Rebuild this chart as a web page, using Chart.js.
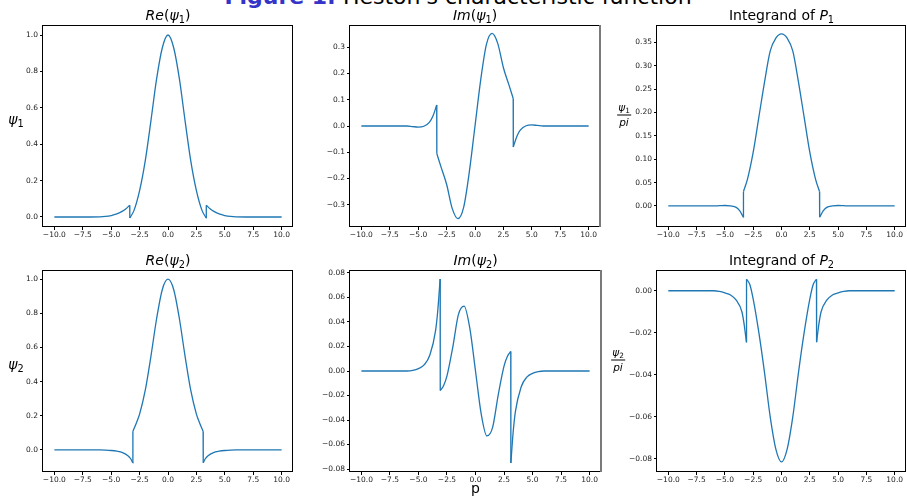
<!DOCTYPE html>
<html>
<head>
<meta charset="utf-8">
<script src="https://cdn.jsdelivr.net/npm/chart.js@4.4.0/dist/chart.umd.min.js"></script>
<style>
  body { margin: 0; background: #fff; width: 907px; height: 502px; overflow: hidden; position: relative;
         font-family: 'DejaVu Sans', sans-serif; }
  canvas { position: absolute; }
  .t { position: absolute; white-space: nowrap; line-height: 1; color: #000; }
  .s { font-size: 0.7em; position: relative; top: 0.25em; font-style: normal; }
  .fr { position: absolute; line-height: 1; text-align: center; font-size: 10.5px; white-space: nowrap;
        transform: translate(-50%, -50%); }
  .fr .num { border-bottom: 0.8px solid #000; padding: 0 1px 2px; }
  .fr .den { padding-top: 1px; }
</style>
</head>
<body>
<script>
// x values where the curves were read (top row jumps near +-3.37, bottom row near +-3.1)
const pTop = [-10, -8, -6, -5.5, -5, -4.5, -4, -3.7, -3.37, -3.36, -3, -2.5, -2, -1.5, -1, -0.5, 0,
              0.5, 1, 1.5, 2, 2.5, 3, 3.36, 3.37, 3.7, 4, 4.5, 5, 5.5, 6, 8, 10];
const pBottom = [-10, -8, -6, -5.5, -5, -4.5, -4, -3.5, -3.3, -3.1, -3.09, -2.8, -2.5, -2, -1.5, -1, -0.5, 0,
                 0.5, 1, 1.5, 2, 2.5, 2.8, 3.09, 3.1, 3.3, 3.5, 4, 4.5, 5, 5.5, 6, 8, 10];
// index of the last point before each vertical jump
const jumpsTop = [8, 23];
const jumpsBottom = [9, 24];

const reY1 = [0, 0, 0.001, 0.003, 0.008, 0.017, 0.032, 0.045, 0.065, -0.005, 0.035, 0.145, 0.31, 0.53, 0.76, 0.93, 1.0,
              0.93, 0.76, 0.53, 0.31, 0.145, 0.035, -0.005, 0.065, 0.045, 0.032, 0.017, 0.008, 0.003, 0.001, 0, 0];
const imY1 = [0, 0, 0, -0.002, -0.004, -0.001, 0.015, 0.038, 0.08, -0.105, -0.155, -0.222, -0.315, -0.353, -0.31, -0.175, 0,
              0.175, 0.31, 0.353, 0.315, 0.222, 0.155, 0.105, -0.08, -0.038, -0.015, 0.001, 0.004, 0.002, 0, 0, 0];
const intY1 = [0, 0, 0, 0.0005, 0.001, 0, -0.003, -0.01, -0.024, 0.031, 0.058, 0.115, 0.19, 0.265, 0.331, 0.359, 0.368,
               0.359, 0.331, 0.265, 0.19, 0.115, 0.058, 0.031, -0.024, -0.01, -0.003, 0, 0.001, 0.0005, 0, 0, 0];

const reY2 = [0, 0, 0, -0.001, -0.003, -0.007, -0.015, -0.035, -0.05, -0.075, 0.11, 0.155, 0.21, 0.35, 0.55, 0.77, 0.94, 1.0,
              0.94, 0.77, 0.55, 0.35, 0.21, 0.155, 0.11, -0.075, -0.05, -0.035, -0.015, -0.007, -0.003, -0.001, 0, 0, 0];
const imY2 = [0, 0, 0, 0.0005, 0.002, 0.005, 0.013, 0.033, 0.05, 0.075, -0.016, -0.012, -0.004, 0.019, 0.046, 0.053, 0.035, 0,
              -0.035, -0.053, -0.046, -0.019, 0.004, 0.012, 0.016, -0.075, -0.05, -0.033, -0.013, -0.005, -0.002, -0.0005, 0, 0, 0];
const intY2 = [0, 0, 0, -0.0003, -0.001, -0.002, -0.0045, -0.01, -0.016, -0.0245, 0.0055, 0.003, -0.004, -0.02, -0.039, -0.06, -0.0755, -0.0816,
               -0.0755, -0.06, -0.039, -0.02, -0.004, 0.003, 0.0055, -0.0245, -0.016, -0.01, -0.0045, -0.002, -0.001, -0.0003, 0, 0, 0];

const xTicks = [-10, -7.5, -5, -2.5, 0, 2.5, 5, 7.5, 10];
const yTicksRe = [0, 0.2, 0.4, 0.6, 0.8, 1.0];
const yTicksIm1 = [-0.3, -0.2, -0.1, 0, 0.1, 0.2, 0.3];
const yTicksInt1 = [0, 0.05, 0.1, 0.15, 0.2, 0.25, 0.3, 0.35];
const yTicksIm2 = [-0.08, -0.06, -0.04, -0.02, 0, 0.02, 0.04, 0.06, 0.08];
const yTicksInt2 = [-0.08, -0.06, -0.04, -0.02, 0];

const Y_W = 40, X_H = 18, PAD_T = 6, PAD_R = 2;

// box = [left, top, right, bottom] of the plot area on the page
const panels = [
  { box: [43, 25, 293, 227], xs: pTop, ys: reY1, jumps: jumpsTop, lim: [-0.055, 1.055], ticks: yTicksRe, dec: 1 },
  { box: [350, 25, 600, 227], xs: pTop, ys: imY1, jumps: jumpsTop, lim: [-0.385, 0.385], ticks: yTicksIm1, dec: 1, gray: true },
  { box: [657, 25, 906, 227], xs: pTop, ys: intY1, jumps: jumpsTop, lim: [-0.045, 0.387], ticks: yTicksInt1, dec: 2 },
  { box: [43, 270, 293, 472], xs: pBottom, ys: reY2, jumps: jumpsBottom, lim: [-0.129, 1.054], ticks: yTicksRe, dec: 1 },
  { box: [350, 270, 601, 472], xs: pBottom, ys: imY2, jumps: jumpsBottom, lim: [-0.0824, 0.0824], ticks: yTicksIm2, dec: 2, gray: true },
  { box: [657, 270, 906, 472], xs: pBottom, ys: intY2, jumps: jumpsBottom, lim: [-0.0864, 0.0099], ticks: yTicksInt2, dec: 2 }
];

const fmt = d => v => (v < 0 ? '\u2212' : '') + Math.abs(v).toFixed(d);

const frame = {
  id: 'frame',
  afterDatasetsDraw(chart, args, opts) {
    const { ctx, chartArea: a } = chart;
    ctx.save();
    ctx.strokeStyle = '#000';
    ctx.lineWidth = 1;
    ctx.strokeRect(a.left - 0.5, a.top + 0.5, a.right - a.left, a.bottom - a.top - 1);
    if (opts.gray) {
      ctx.strokeStyle = '#7a7a7a';
      ctx.lineWidth = 2;
      ctx.beginPath();
      ctx.moveTo(a.right, a.top);
      ctx.lineTo(a.right, a.bottom);
      ctx.stroke();
    }
    ctx.restore();
  }
};

const tickFont = { family: 'DejaVu Sans', size: 7.5 };

// split a curve into smooth pieces plus straight vertical jump segments
function pieces(xs, ys, jumps) {
  const pts = xs.map((x, i) => ({ x: x, y: ys[i] }));
  const line = { borderColor: '#1f77b4', borderWidth: 1.3, pointRadius: 0, fill: false };
  const out = [];
  let start = 0;
  jumps.forEach(j => {
    out.push({ ...line, data: pts.slice(start, j + 1), cubicInterpolationMode: 'monotone' });
    out.push({ ...line, data: pts.slice(j, j + 2), tension: 0 });
    start = j + 1;
  });
  out.push({ ...line, data: pts.slice(start), cubicInterpolationMode: 'monotone' });
  return out;
}

panels.forEach(p => {
  const [L, T, R, B] = p.box;
  const c = document.createElement('canvas');
  const w = Y_W + (R - L) + PAD_R, h = PAD_T + (B - T) + X_H;
  c.width = w; c.height = h;
  c.style.left = (L - Y_W) + 'px';
  c.style.top = (T - PAD_T) + 'px';
  document.body.appendChild(c);

  new Chart(c, {
    type: 'line',
    data: { datasets: pieces(p.xs, p.ys, p.jumps) },
    options: {
      responsive: false,
      animation: false,
      devicePixelRatio: 1,
      events: [],
      layout: { padding: { top: PAD_T, right: PAD_R, left: 0, bottom: 0 } },
      plugins: { legend: { display: false }, tooltip: { enabled: false }, frame: { gray: !!p.gray } },
      scales: {
        x: {
          type: 'linear', min: -11, max: 11,
          afterBuildTicks: s => { s.ticks = xTicks.map(v => ({ value: v })); },
          afterFit: s => { s.height = X_H; s.paddingLeft = 0; s.paddingRight = 0; },
          ticks: { callback: fmt(1), font: tickFont, color: '#222', padding: 1, maxRotation: 0, minRotation: 0, autoSkip: false },
          grid: { drawOnChartArea: false, drawTicks: true, tickLength: 3, color: '#000', lineWidth: 1 },
          border: { display: false }
        },
        y: {
          type: 'linear', min: p.lim[0], max: p.lim[1],
          afterBuildTicks: s => { s.ticks = p.ticks.map(v => ({ value: v })); },
          afterFit: s => { s.width = Y_W; s.paddingTop = 0; s.paddingBottom = 0; },
          ticks: { callback: fmt(p.dec), font: tickFont, color: '#222', padding: 2, autoSkip: false },
          grid: { drawOnChartArea: false, drawTicks: true, tickLength: 3, color: '#000', lineWidth: 1 },
          border: { display: false }
        }
      }
    },
    plugins: [frame]
  });
});

function text(html, cx, base, fs) {
  const d = document.createElement('div');
  d.className = 't';
  d.innerHTML = html;
  d.style.fontSize = fs + 'px';
  d.style.left = cx + 'px';
  d.style.top = (base - 0.846 * fs) + 'px';
  d.style.transform = 'translateX(-50%)';
  document.body.appendChild(d);
  return d;
}

function frac(sub, cx, cy) {
  const d = document.createElement('div');
  d.className = 'fr';
  d.innerHTML = '<div class="num"><i>\u03c8</i><span class="s">' + sub + '</span></div><div class="den"><i>pi</i></div>';
  d.style.left = cx + 'px';
  d.style.top = cy + 'px';
  document.body.appendChild(d);
}

text('<b style="color:#3434c8">Figure 1:</b> Heston\'s characteristic function', 458, 5, 22);

text('<i>Re</i>(<i>\u03c8</i><span class="s">1</span>)', 168, 20, 14);
text('<i>Im</i>(<i>\u03c8</i><span class="s">1</span>)', 475, 20, 14);
text('Integrand of <i>P</i><span class="s">1</span>', 781.5, 20, 14);
text('<i>Re</i>(<i>\u03c8</i><span class="s">2</span>)', 168, 265, 14);
text('<i>Im</i>(<i>\u03c8</i><span class="s">2</span>)', 475.5, 265, 14);
text('Integrand of <i>P</i><span class="s">2</span>', 781.5, 265, 14);

text('<i>\u03c8</i><span class="s">1</span>', 16, 124, 14);
text('<i>\u03c8</i><span class="s">2</span>', 16, 369, 14);
frac('1', 624, 114);
frac('2', 618, 359);

text('p', 475.5, 493, 14);
</script>
</body>
</html>
